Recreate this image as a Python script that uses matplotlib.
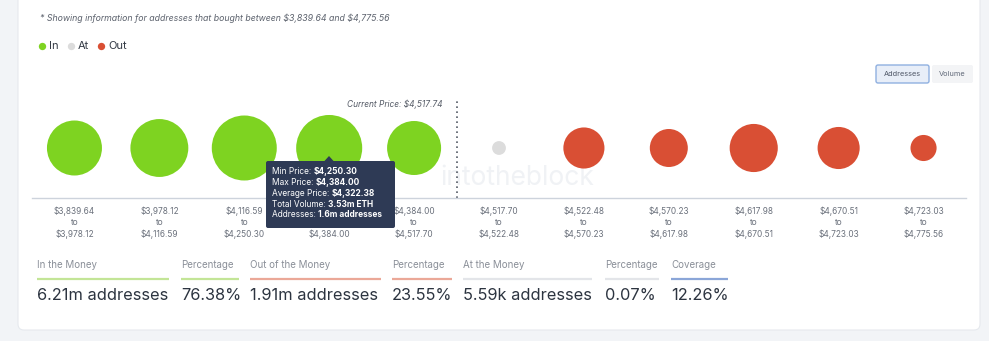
import numpy as np
import matplotlib
matplotlib.use("Agg")
import matplotlib.pyplot as plt
from matplotlib.patches import FancyBboxPatch, Polygon

plt.rcParams['font.family'] = ['Inter', 'DejaVu Sans']

# buckets (price ranges) and addresses per bucket (millions)
bucket_lo = ["$3,839.64", "$3,978.12", "$4,116.59", "$4,250.30", "$4,384.00", "$4,517.70",
             "$4,522.48", "$4,570.23", "$4,617.98", "$4,670.51", "$4,723.03"]
bucket_hi = ["$3,978.12", "$4,116.59", "$4,250.30", "$4,384.00", "$4,517.70", "$4,522.48",
             "$4,570.23", "$4,617.98", "$4,670.51", "$4,723.03", "$4,775.56"]
addresses = [1.11, 1.23, 1.55, 1.60, 1.07, 0.07, 0.62, 0.53, 0.85, 0.65, 0.25]
status = ["in", "in", "in", "in", "in", "at", "out", "out", "out", "out", "out"]
current_price_pos = 4.5

stat_labels = ["In the Money", "Percentage", "Out of the Money", "Percentage",
               "At the Money", "Percentage", "Coverage"]
stat_values = ["6.21m addresses", "76.38%", "1.91m addresses", "23.55%",
               "5.59k addresses", "0.07%", "12.26%"]
stat_kind = ["in", "in", "out", "out", "at", "at", "cov"]

tooltip_keys = ["Min Price: ", "Max Price: ", "Average Price: ", "Total Volume: ", "Addresses: "]
tooltip_vals = ["$4,250.30", "$4,384.00", "$4,322.38", "3.53m ETH", "1.6m addresses"]

colors = {"in": "#7ed321", "at": "#dcdcdc", "out": "#d94f34"}
line_colors = {"in": "#c3e597", "out": "#eba898", "at": "#e3e5e9", "cov": "#8ba6d8"}

W, H = 989, 341
fig = plt.figure(figsize=(W / 100, H / 100), dpi=100)
fig.patch.set_facecolor("#f2f4f7")

# background card
bg = fig.add_axes([0, 0, 1, 1], zorder=-1)
bg.set_xlim(0, W)
bg.set_ylim(H, 0)
bg.axis("off")
bg.add_patch(FancyBboxPatch((18, -20), 962, 350, boxstyle="round,pad=0,rounding_size=6",
                            fc="white", ec="#e6e9ee", lw=0.8))
bg.text(40, 18, r"* Showing information for addresses that bought between \$3,839.64 and \$4,775.56",
        fontsize=6.3, style="italic", color="#5d636e", va="center")
# legend
lx = 42
for name, key in [("In", "in"), ("At", "at"), ("Out", "out")]:
    bg.scatter([lx], [46], s=28, color=colors[key], linewidths=0)
    bg.text(lx + 7, 46, name, fontsize=8, color="#333a45", va="center")
    lx += 29 if name != "At" else 30
# buttons
bg.add_patch(FancyBboxPatch((876, 65), 53, 18, boxstyle="round,pad=0,rounding_size=2",
                            fc="#e8eef8", ec="#8fb0e0", lw=1.0))
bg.text(902.5, 74, "Addresses", fontsize=5.3, color="#505868", ha="center", va="center")
bg.add_patch(FancyBboxPatch((932, 65), 41, 18, boxstyle="round,pad=0,rounding_size=2",
                            fc="#f3f4f6", ec="none"))
bg.text(952.5, 74, "Volume", fontsize=5.3, color="#606878", ha="center", va="center")
# watermark
bg.text(440, 178, "intotheblock", fontsize=19, color="#f0f2f5", va="center", ha="left")

# bottom stats
stat_x = [37, 181, 250, 392, 463, 605, 671]
stat_w = [132, 58, 131, 60, 129, 54, 57]
for x, w, lab, val, k in zip(stat_x, stat_w, stat_labels, stat_values, stat_kind):
    bg.text(x, 265, lab, fontsize=7, color="#8a8f98", va="center")
    bg.plot([x, x + w], [279, 279], color=line_colors[k], lw=1.6, solid_capstyle="butt")
    bg.text(x, 296, val, fontsize=11.8, color="#2c3440", va="center")

# main bubble axes
left, right, bottom_px, top_px = 32, 966, 198, 98
ax = fig.add_axes([left / W, (H - bottom_px) / H, (right - left) / W, (bottom_px - top_px) / H],
                  zorder=1)
ax.patch.set_alpha(0)
xs = np.arange(len(addresses))
sizes = np.array(addresses) * 1413
ax.scatter(xs, np.full(len(xs), 0.5), s=sizes, c=[colors[s] for s in status], linewidths=0,
           zorder=3)
ax.set_xlim(-0.5, len(xs) - 0.5)
ax.set_ylim(0, 1)
ax.set_xticks(xs)
ax.set_xticklabels([f"{a}\nto\n{b}" for a, b in zip(bucket_lo, bucket_hi)],
                   fontsize=6, color="#6b717c", linespacing=1.35)
ax.tick_params(axis="x", length=0, pad=6)
ax.set_yticks([])
for sp in ["top", "left", "right"]:
    ax.spines[sp].set_visible(False)
ax.spines["bottom"].set_linestyle((0, (1, 1)))
ax.spines["bottom"].set_color("#cdd3dc")
ax.spines["bottom"].set_linewidth(1.0)
ax.axvline(current_price_pos, ymin=0, ymax=1, color="#555b66", linestyle=(0, (1, 2)), lw=1.2)
ax.text(current_price_pos - 0.16, 0.94, r"Current Price: \$4,517.74", fontsize=6, style="italic",
        color="#555b66", ha="right", va="center")

# tooltip overlay
ui = fig.add_axes([0, 0, 1, 1], zorder=2)
ui.set_xlim(0, W)
ui.set_ylim(H, 0)
ui.axis("off")
ui.add_patch(FancyBboxPatch((266, 161), 129, 67, boxstyle="round,pad=0,rounding_size=2",
                            fc="#2e3a55", ec="none"))
ui.add_patch(Polygon([[324, 161.5], [334, 161.5], [329, 156]], closed=True, fc="#2e3a55", ec="none"))
for i, (k, v) in enumerate(zip(tooltip_keys, tooltip_vals)):
    y = 172 + i * 10.7
    t = ui.text(272, y, k, fontsize=6, color="white", va="center")
    ui.annotate(v, xy=(1, 0.5), xycoords=t, fontsize=6, color="white", fontweight="bold",
                va="center", ha="left")

fig.savefig("out.png", dpi=100, facecolor=fig.get_facecolor())
